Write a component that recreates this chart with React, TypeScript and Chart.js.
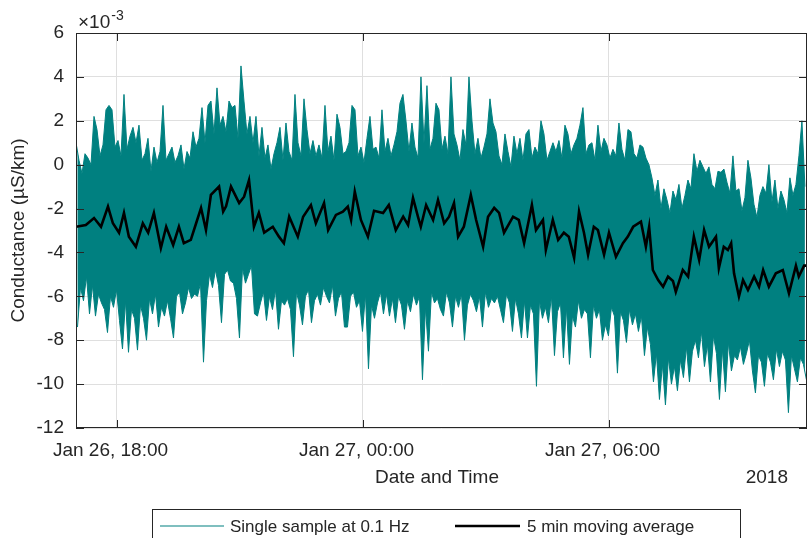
import { useEffect, useRef } from "react";
import { Chart, registerables } from "chart.js";

Chart.register(...registerables);

// ---- axis / text data ----
const X_MIN_HOURS = 17; // hours since Jan 26 00:00
const X_MAX_HOURS = 34.83;
const X_TICK_HOURS = [18, 24, 30];
const X_TICK_LABELS = ["Jan 26, 18:00", "Jan 27, 00:00", "Jan 27, 06:00"];
const X_YEAR_LABEL = "2018";
const X_TITLE = "Date and Time";
const Y_TITLE = "Conductance (\u00b5S/km)";
const Y_MIN = -12;
const Y_MAX = 6;
const Y_STEP = 2;
const Y_EXPONENT = "-3";
const SERIES_LABELS = ["Single sample at 0.1 Hz", "5 min moving average"];

// ---- single samples (x10^-3), per time bin: upper and lower excursion ----
const TEAL_START_HOURS = 17;
const TEAL_BIN_MINUTES = 4.39;
const TEAL_HI = [
  1.0, 0.2, -0.4, 0.5, 0.3, 0.0, 2.2, 1.6, 0.4, 0.9,
  2.5, 2.7, 2.5, 0.8, 1.1, 0.4, 3.2, 0.7, 1.3, 1.7,
  1.0, 1.8, 0.2, 0.5, 1.2, -0.3, 0.8, 0.1, 0.6, 2.7,
  0.2, 0.5, 0.8, 0.1, 0.4, 0.9, -0.2, 0.6, 0.3, 1.5,
  0.8, 1.2, 2.6, 1.0, 2.7, 2.9, 1.4, 3.5, 1.8, 2.2,
  1.5, 2.9, 2.6, 2.7, 1.2, 4.5, 2.9, 1.4, 2.2, 1.0,
  2.2, 0.4, 1.7, 0.3, 0.9, -0.2, 0.5, 1.0, 1.7, 0.2,
  1.9, 0.6, 0.2, 3.2, 1.0, 0.4, 3.0, 1.6, 0.5, 1.1,
  0.4, 0.9, 0.3, 2.7, 0.6, 1.3, 0.2, 2.3, 1.7, 0.5,
  0.6, 1.0, 2.7, 2.5, 0.4, 0.8, 0.1, 1.2, 2.2, 0.7,
  0.8, 0.3, 2.5, 0.6, 1.2, 0.4, 0.9, 1.5, 2.8, 3.2,
  2.0, 0.6, 1.9, 0.8, 0.3, 4.0, 1.0, 3.6, 0.7, 1.2,
  2.8, 2.5, 0.7, 1.3, 0.5, 4.0, 1.4, 0.9, 0.2, 1.6,
  0.9, 4.0, 2.0, 0.5, 1.2, 0.3, 0.8, 1.4, 3.0, 1.9,
  1.5, 0.4, 0.0, 1.4, 0.6, -0.1, 1.3, 0.5, 1.2, 0.2,
  1.4, 1.6, 0.3, 0.8, 0.5, 2.0, 1.4, 0.2, 0.6, 1.0,
  0.6, 1.1, 0.3, 1.8, 1.4, 0.5, 0.9, 1.2, 1.8, 2.6,
  0.5, 0.9, 1.0, 0.2, 1.8, 0.6, 1.2, 0.9, 0.3, 0.7,
  0.4, 1.9, 0.7, 0.2, 1.6, 1.5, 0.5, 0.3, 0.9, 0.8,
  0.3, 0.0, -0.6, -1.4, -0.7, -2.0, -1.1, -1.6, -2.2, -1.2,
  -1.6, -0.9, -2.0, -1.4, -0.7, -1.1, 0.5, -0.3, 0.2, -0.1,
  -0.4, -0.1, -0.9, -1.1, -0.3, -0.35, -0.2, -0.8, -1.3, 0.4,
  -1.2, -1.1, -2.1, -1.5, 0.2, -0.6, -1.8, -2.4, -1.4, -1.0,
  -1.3, 0.0, -1.7, -0.7, -2.0, -1.2, -1.6, -2.2, -0.6, -1.4, -0.9, 0.4, 2.0, -1.0,
];
const TEAL_LO = [
  -7.4, -5.6, -6.2, -5.1, -6.8, -5.5, -6.9, -5.9, -6.3, -6.6,
  -7.65, -6.0, -6.5, -5.7, -7.1, -8.4, -6.2, -8.55, -6.6, -7.0,
  -8.45, -6.4, -7.0, -8.0, -6.1, -6.8, -5.9, -7.4, -6.5, -6.9,
  -6.2, -7.0, -7.9, -6.0, -5.8, -6.8, -6.3, -5.6, -6.1, -5.9,
  -6.0, -5.4, -9.0, -6.2, -5.0, -5.6, -4.8, -5.5, -7.2, -5.0,
  -4.8, -5.3, -5.4, -6.1, -7.9, -4.7, -5.4, -5.0, -4.6, -6.8,
  -6.9, -6.3, -5.8, -7.1, -6.0, -6.6, -5.7, -7.5, -6.2, -6.4,
  -6.1, -6.6, -8.75, -5.8, -6.4, -7.3, -6.0, -5.7, -7.2, -6.2,
  -5.9, -6.4, -5.6, -6.0, -6.3, -5.5, -6.9, -6.1, -5.8, -7.4,
  -7.4, -6.0, -5.8, -6.5, -6.2, -7.6, -5.9, -9.3, -6.4, -7.0,
  -6.3, -5.8, -6.8, -5.9, -6.9, -6.1, -7.2, -6.0, -6.4, -7.5,
  -6.2, -6.7, -5.9, -6.4, -6.0, -9.8, -6.5, -8.5, -5.8, -6.3,
  -6.1, -6.6, -6.9, -5.8, -6.3, -7.4, -6.0, -6.5, -5.9, -8.0,
  -6.4, -5.9, -6.2, -6.7, -6.0, -7.4, -5.8, -6.5, -6.1, -6.3,
  -6.0, -6.6, -7.2, -5.9, -6.3, -7.6, -6.1, -6.8, -7.9, -6.2,
  -7.9, -6.4, -6.8, -10.1, -6.2, -7.0, -6.5, -7.2, -6.0, -8.7,
  -6.7, -6.3, -8.8, -6.5, -9.1, -6.9, -7.4, -6.2, -7.0, -6.6,
  -6.8, -8.8, -6.4, -7.0, -6.6, -8.0, -7.3, -7.8, -6.5, -6.9,
  -9.5, -6.7, -7.1, -8.1, -6.6, -7.3, -6.8, -7.6, -6.9, -8.7,
  -7.4, -8.2, -9.9, -8.6, -10.7, -9.1, -10.95, -8.8, -10.0, -9.2,
  -10.3, -8.9, -9.7, -8.3, -9.9, -8.5, -8.0, -8.8, -7.6, -9.2,
  -8.2, -9.9, -7.8, -8.6, -10.7, -8.4, -10.35, -8.1, -9.4, -8.7,
  -8.9, -8.3, -9.1, -8.6, -8.0, -9.4, -10.4, -8.7, -9.0, -10.1,
  -8.6, -9.0, -9.8, -8.4, -9.2, -8.5, -8.9, -11.3, -8.7, -9.3, -9.9, -8.8, -9.1, -9.8,
];

// ---- 5 min moving average (x10^-3) ----
const MA_HOURS = [
  17.0, 17.24, 17.44, 17.61, 17.78, 17.9, 18.05, 18.17, 18.29, 18.46,
  18.63, 18.76, 18.9, 19.07, 19.2, 19.37, 19.51, 19.63, 19.8, 19.93,
  20.05, 20.17, 20.29, 20.49, 20.59, 20.66, 20.78, 20.98, 21.1, 21.22,
  21.34, 21.46, 21.59, 21.8, 21.95, 22.07, 22.2, 22.41, 22.54, 22.73,
  22.85, 23.05, 23.15, 23.34, 23.51, 23.63, 23.71, 23.8, 23.95, 24.12,
  24.27, 24.49, 24.63, 24.8, 24.98, 25.1, 25.22, 25.34, 25.41, 25.54,
  25.71, 25.83, 25.98, 26.1, 26.22, 26.32, 26.46, 26.63, 26.76, 26.93,
  27.05, 27.2, 27.32, 27.44, 27.66, 27.8, 27.93, 28.12, 28.22, 28.39,
  28.46, 28.63, 28.76, 28.9, 29.02, 29.15, 29.27, 29.39, 29.49, 29.63,
  29.73, 29.88, 30.0, 30.17, 30.34, 30.46, 30.59, 30.78, 30.9, 30.98,
  31.07, 31.2, 31.32, 31.44, 31.56, 31.63, 31.8, 31.93, 32.07, 32.2,
  32.32, 32.44, 32.61, 32.68, 32.8, 32.9, 32.98, 33.05, 33.17, 33.27,
  33.39, 33.54, 33.66, 33.76, 33.9, 34.07, 34.24, 34.39, 34.56, 34.63,
  34.76, 34.83,
];
const MA_VALUES = [
  -2.83, -2.75, -2.43, -2.83, -1.91, -2.67, -3.1, -2.2, -3.28, -3.74,
  -2.67, -3.1, -2.2, -3.8, -2.83, -3.66, -2.83, -3.58, -3.43, -2.67,
  -1.97, -2.98, -1.38, -1.0, -2.14, -1.9, -1.0, -1.75, -1.46, -0.7,
  -2.83, -2.2, -3.1, -2.83, -3.28, -3.58, -2.37, -3.28, -2.37, -1.84,
  -2.67, -1.75, -2.98, -2.29, -2.14, -1.91, -2.52, -1.23, -2.52, -3.28,
  -2.1, -2.2, -1.84, -2.98, -2.37, -2.75, -1.52, -2.37, -2.83, -1.84,
  -2.52, -1.61, -2.67, -2.37, -1.75, -3.28, -2.83, -1.38, -2.52, -3.74,
  -2.37, -1.97, -2.2, -3.1, -2.37, -2.52, -3.58, -1.84, -2.98, -2.52,
  -3.89, -2.52, -3.43, -3.1, -3.28, -4.25, -2.14, -3.1, -4.1, -2.83,
  -2.98, -4.1, -3.1, -4.2, -3.58, -3.28, -2.83, -2.6, -3.74, -2.83,
  -4.8, -5.26, -5.56, -5.1, -5.3, -5.8, -4.8, -5.1, -3.28, -4.34,
  -2.98, -3.74, -3.28, -4.72, -3.74, -3.89, -3.58, -4.95, -6.01, -5.26,
  -5.71, -5.1, -5.56, -4.8, -5.56, -4.95, -4.8, -5.86, -4.6, -5.1,
  -4.6, -4.6,
];

// ---- styles ----
const FONT = '"Liberation Sans", Arial, Helvetica, sans-serif';
const AXIS_COLOR = "#262626";
const GRID_COLOR = "#dfdfdf";
const TEAL = "#008080";

const decorPlugin = {
  id: "matlabDecor",
  afterDraw(chart: any) {
    const { ctx, chartArea: a, scales } = chart;
    const xs = scales.x;
    const ys = scales.y;
    ctx.save();
    ctx.strokeStyle = AXIS_COLOR;
    ctx.lineWidth = 1;
    const line = (x1: number, y1: number, x2: number, y2: number) => {
      ctx.beginPath();
      ctx.moveTo(x1, y1);
      ctx.lineTo(x2, y2);
      ctx.stroke();
    };
    // box
    ctx.strokeRect(a.left + 0.5, a.top + 0.5, a.right - a.left - 1, a.bottom - a.top - 1);
    // inward ticks
    for (let v = Y_MIN; v <= Y_MAX; v += Y_STEP) {
      const y = Math.round(ys.getPixelForValue(v)) + 0.5;
      line(a.left, y, a.left + 8, y);
      line(a.right, y, a.right - 8, y);
    }
    X_TICK_HOURS.forEach((h) => {
      const x = Math.round(xs.getPixelForValue(h)) + 0.5;
      line(x, a.bottom, x, a.bottom - 8);
      line(x, a.top, x, a.top + 8);
    });

    ctx.fillStyle = AXIS_COLOR;
    ctx.textBaseline = "alphabetic";
    // x tick labels
    ctx.font = `19px ${FONT}`;
    ctx.textAlign = "center";
    X_TICK_HOURS.forEach((h, i) => {
      ctx.fillText(X_TICK_LABELS[i], xs.getPixelForValue(h) - 6.5, a.bottom + 28);
    });
    // x title + year
    ctx.fillText(X_TITLE, 437, a.bottom + 55);
    ctx.textAlign = "right";
    ctx.fillText(X_YEAR_LABEL, 788, a.bottom + 55);
    // exponent
    ctx.textAlign = "left";
    ctx.fillText("\u00d710", a.left + 2, a.top - 5);
    const w = ctx.measureText("\u00d710").width;
    ctx.font = `14px ${FONT}`;
    ctx.fillText(Y_EXPONENT, a.left + 3 + w, a.top - 13);
    // y title
    ctx.save();
    ctx.font = `19px ${FONT}`;
    ctx.translate(24, (a.top + a.bottom) / 2);
    ctx.rotate(-Math.PI / 2);
    ctx.textAlign = "center";
    ctx.fillText(Y_TITLE, 0, 0);
    ctx.restore();

    // legend
    ctx.fillStyle = "#ffffff";
    ctx.fillRect(152.5, 509.5, 588, 60);
    ctx.strokeStyle = AXIS_COLOR;
    ctx.strokeRect(152.5, 509.5, 588, 60);
    ctx.strokeStyle = TEAL;
    ctx.lineWidth = 1.2;
    line(160, 526, 224, 526);
    ctx.strokeStyle = "#000000";
    ctx.lineWidth = 2.5;
    line(455, 526, 520, 526);
    ctx.fillStyle = AXIS_COLOR;
    ctx.font = `17px ${FONT}`;
    ctx.textAlign = "left";
    ctx.fillText(SERIES_LABELS[0], 230, 532);
    ctx.fillText(SERIES_LABELS[1], 527, 532);
    ctx.restore();
  },
};

export default function App() {
  const ref = useRef<HTMLCanvasElement>(null);
  useEffect(() => {
    const canvas = ref.current;
    if (!canvas) return;
    const binHours = TEAL_BIN_MINUTES / 60;
    const hiData = TEAL_HI.map((v, i) => ({ x: TEAL_START_HOURS + i * binHours, y: v }));
    const loData = TEAL_LO.map((v, i) => ({ x: TEAL_START_HOURS + (i + 0.5) * binHours, y: v }));
    const maData = MA_HOURS.map((h, i) => ({ x: h, y: MA_VALUES[i] }));
    const chart = new Chart(canvas, {
      type: "line",
      data: {
        datasets: [
          {
            label: SERIES_LABELS[1],
            data: maData,
            borderColor: "#000000",
            borderWidth: 2.6,
            pointRadius: 0,
            tension: 0,
            fill: false,
            order: 0,
          },
          {
            label: SERIES_LABELS[0],
            data: hiData,
            borderColor: TEAL,
            backgroundColor: TEAL,
            borderWidth: 1,
            pointRadius: 0,
            tension: 0,
            fill: "+1",
            order: 1,
          },
          {
            label: SERIES_LABELS[0] + " (low)",
            data: loData,
            borderColor: TEAL,
            borderWidth: 1,
            pointRadius: 0,
            tension: 0,
            fill: false,
            order: 2,
          },
        ],
      },
      options: {
        animation: false,
        responsive: false,
        devicePixelRatio: 1,
        events: [],
        layout: { padding: { top: 33, right: 1, left: 0, bottom: 0 } },
        plugins: { legend: { display: false }, tooltip: { enabled: false } },
        scales: {
          x: {
            type: "linear",
            min: X_MIN_HOURS,
            max: X_MAX_HOURS,
            afterBuildTicks: (s: any) => {
              s.ticks = X_TICK_HOURS.map((v) => ({ value: v }));
            },
            afterFit: (s: any) => {
              s.height = 110;
            },
            ticks: { display: false },
            grid: { color: GRID_COLOR, drawTicks: false },
            border: { display: false },
          },
          y: {
            min: Y_MIN,
            max: Y_MAX,
            afterFit: (s: any) => {
              s.width = 76;
            },
            ticks: {
              stepSize: Y_STEP,
              color: AXIS_COLOR,
              padding: 12,
              font: { family: FONT, size: 19 },
              callback: (v: any) => String(v),
            },
            grid: { color: GRID_COLOR, drawTicks: false },
            border: { display: false },
          },
        },
      },
      plugins: [decorPlugin],
    } as any);
    return () => chart.destroy();
  }, []);
  return (
    <canvas
      ref={ref}
      width={808}
      height={538}
      style={{ position: "absolute", left: 0, top: 0, width: 808, height: 538 }}
    />
  );
}
